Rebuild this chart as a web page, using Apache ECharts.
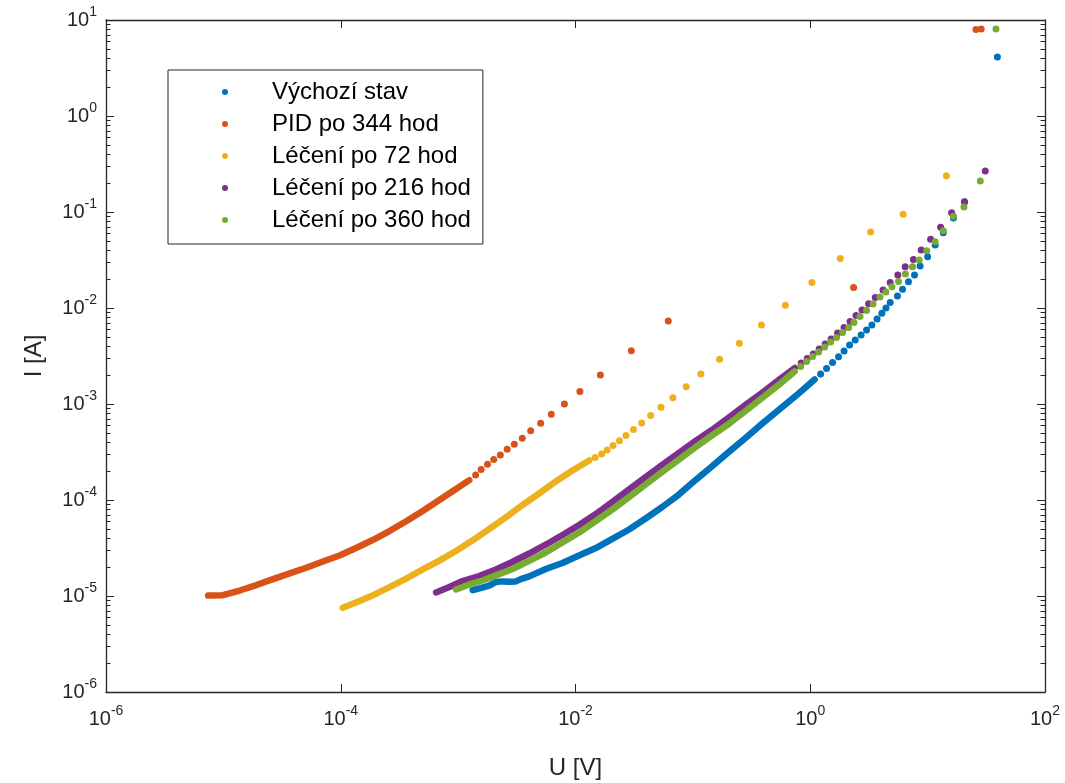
<!DOCTYPE html>
<html>
<head>
<meta charset="utf-8">
<script src="https://cdn.jsdelivr.net/npm/echarts@6/dist/echarts.min.js"></script>
<style>
  html, body { margin: 0; padding: 0; background: #fff; }
  #chart { width: 1065px; height: 783px; }
</style>
</head>
<body>
<div id="chart"></div>
<script>
// [U (V), I (A)]. "Dense" = the part where the dots merge into a stroke.
const vychoziDense = [[1.33e-3,1.15e-5],[1.55e-3,1.21e-5],[1.84e-3,1.28e-5],[2.10e-3,1.40e-5],[2.39e-3,1.42e-5],[2.72e-3,1.41e-5],[3.10e-3,1.42e-5],[3.53e-3,1.52e-5],[4.03e-3,1.60e-5],[5.58e-3,1.91e-5],[7.74e-3,2.21e-5],[1.07e-2,2.64e-5],[1.49e-2,3.16e-5],[2.06e-2,3.93e-5],[2.86e-2,4.93e-5],[3.96e-2,6.41e-5],[5.48e-2,8.45e-5],[7.60e-2,1.14e-4],[0.105,1.61e-4],[0.145,2.23e-4],[0.202,3.16e-4],[0.281,4.43e-4],[0.386,6.19e-4],[0.538,8.66e-4],[0.796,1.29e-3],[1.089,1.80e-3]];
const vychoziDots = [[1.225,2.05e-3],[1.377,2.34e-3],[1.549,2.70e-3],[1.742,3.11e-3],[1.941,3.56e-3],[2.163,4.12e-3],[2.415,4.64e-3],[2.71,5.24e-3],[3.02,5.90e-3],[3.35,6.65e-3],[3.707,7.67e-3],[4.074,8.81e-3],[4.416,1.0e-2],[4.797,1.14e-2],[5.53,1.33e-2],[6.11,1.57e-2],[6.87,1.88e-2],[7.73,2.21e-2],[8.63,2.74e-2],[10.0,3.42e-2],[11.6,4.53e-2],[13.6,6.08e-2],[16.6,8.66e-2],[20.6,0.127],[39.3,4.12]];

const pidDense = [[7.41e-6,1.01e-5],[9.89e-6,1.02e-5],[1.38e-5,1.14e-5],[1.91e-5,1.30e-5],[2.65e-5,1.50e-5],[3.67e-5,1.72e-5],[5.09e-5,1.97e-5],[7.04e-5,2.29e-5],[9.77e-5,2.64e-5],[1.35e-4,3.16e-5],[1.87e-4,3.83e-5],[2.60e-4,4.75e-5],[3.61e-4,6.00e-5],[4.99e-4,7.67e-5],[6.92e-4,1.0e-4],[9.59e-4,1.30e-4],[1.245e-3,1.61e-4]];
const pidDots = [[1.41e-3,1.82e-4],[1.57e-3,2.08e-4],[1.78e-3,2.36e-4],[2.01e-3,2.64e-4],[2.29e-3,2.94e-4],[2.62e-3,3.37e-4],[3.01e-3,3.81e-4],[3.52e-3,4.41e-4],[4.15e-3,5.26e-4],[5.05e-3,6.30e-4],[6.22e-3,7.82e-4],[8.04e-3,1.0e-3],[1.09e-2,1.35e-3],[1.63e-2,2.00e-3],[2.99e-2,3.58e-3],[6.17e-2,7.33e-3],[2.34,1.64e-2],[25.8,7.96],[28.6,8.06]];

const lec72Dense = [[1.04e-4,7.55e-6],[1.35e-4,8.55e-6],[1.86e-4,1.01e-5],[2.60e-4,1.24e-5],[3.61e-4,1.52e-5],[4.99e-4,1.89e-5],[6.92e-4,2.34e-5],[9.59e-4,2.94e-5],[1.32e-3,3.78e-5],[1.84e-3,4.99e-5],[2.55e-3,6.58e-5],[3.53e-3,8.87e-5],[4.90e-3,1.17e-4],[6.79e-3,1.56e-4],[9.42e-3,2.03e-4],[1.31e-2,2.58e-4]];
const lec72Dots = [[1.47e-2,2.77e-4],[1.67e-2,3.01e-4],[1.86e-2,3.32e-4],[2.09e-2,3.70e-4],[2.37e-2,4.14e-4],[2.69e-2,4.70e-4],[3.12e-2,5.42e-4],[3.66e-2,6.34e-4],[4.37e-2,7.59e-4],[5.35e-2,9.27e-4],[6.76e-2,1.16e-3],[8.77e-2,1.51e-3],[0.117,2.05e-3],[0.169,2.92e-3],[0.249,4.29e-3],[0.384,6.65e-3],[0.614,1.07e-2],[1.033,1.84e-2],[1.803,3.27e-2],[3.266,6.19e-2],[6.19,9.46e-2],[14.45,0.239]];

const lec216Dense = [[6.49e-4,1.09e-5],[8.41e-4,1.24e-5],[1.09e-3,1.43e-5],[1.51e-3,1.61e-5],[2.10e-3,1.89e-5],[2.89e-3,2.26e-5],[4.03e-3,2.77e-5],[5.62e-3,3.44e-5],[7.74e-3,4.32e-5],[1.074e-2,5.50e-5],[1.49e-2,7.14e-5],[2.05e-2,9.53e-5],[2.86e-2,1.29e-4],[3.98e-2,1.74e-4],[5.48e-2,2.32e-4],[7.60e-2,3.09e-4],[0.1054,4.12e-4],[0.145,5.36e-4],[0.202,7.23e-4],[0.281,9.77e-4],[0.386,1.30e-3],[0.538,1.78e-3],[0.736,2.37e-3]];
const lec216Dots = [[0.837,2.67e-3],[0.942,2.98e-3],[1.059,3.32e-3],[1.191,3.74e-3],[1.340,4.22e-3],[1.507,4.75e-3],[1.710,5.50e-3],[1.941,6.27e-3],[2.183,7.23e-3],[2.455,8.36e-3],[2.761,9.53e-3],[3.141,1.11e-2],[3.581,1.29e-2],[4.169,1.54e-2],[4.797,1.84e-2],[5.57,2.21e-2],[6.44,2.69e-2],[7.57,3.21e-2],[8.81,4.02e-2],[10.6,5.20e-2],[12.9,6.93e-2],[16.0,9.84e-2],[20.6,0.128],[31.0,0.267]];

const lec360Dense = [[9.59e-4,1.17e-5],[1.245e-3,1.32e-5],[1.61e-3,1.45e-5],[2.10e-3,1.64e-5],[2.90e-3,1.91e-5],[4.03e-3,2.32e-5],[5.58e-3,2.84e-5],[7.74e-3,3.61e-5],[1.074e-2,4.58e-5],[1.49e-2,6.04e-5],[2.06e-2,7.96e-5],[2.86e-2,1.07e-4],[3.96e-2,1.45e-4],[5.48e-2,1.96e-4],[7.60e-2,2.64e-4],[0.1054,3.56e-4],[0.145,4.70e-4],[0.202,6.19e-4],[0.281,8.45e-4],[0.386,1.15e-3],[0.538,1.58e-3],[0.736,2.18e-3]];
const lec360Dots = [[0.828,2.46e-3],[0.931,2.77e-3],[1.047,3.13e-3],[1.178,3.48e-3],[1.324,3.93e-3],[1.489,4.43e-3],[1.675,4.93e-3],[1.888,5.56e-3],[2.123,6.27e-3],[2.36,7.06e-3],[2.655,8.15e-3],[3.02,9.42e-3],[3.428,1.10e-2],[3.926,1.30e-2],[4.416,1.47e-2],[4.966,1.66e-2],[5.65,1.89e-2],[6.47,2.26e-2],[7.43,2.69e-2],[8.47,3.16e-2],[9.82,3.95e-2],[11.6,4.91e-2],[13.6,6.38e-2],[16.6,9.02e-2],[20.4,0.113],[28.1,0.210],[38.2,8.06]];

const names = ['Výchozí stav', 'PID po 344 hod', 'Léčení po 72 hod', 'Léčení po 216 hod', 'Léčení po 360 hod'];
const colors = ['#0072BD', '#D95319', '#EDB120', '#7E2F8E', '#77AC30'];

// log minor ticks of the I axis (2..9 x 10^n)
const minorTicksI = [];
for (let e = -6; e < 1; e++) {
  for (let k = 2; k <= 9; k++) minorTicksI.push(k * Math.pow(10, e));
}

const FONT = '"Liberation Sans", Arial, Helvetica, sans-serif';
const AXIS_COLOR = '#262626';

function powLabel(value) {
  return '{b|10}{s|' + Math.round(Math.log10(value)) + '}';
}
const powRich = {
  b: { fontSize: 20, lineHeight: 30, color: AXIS_COLOR, fontFamily: FONT },
  s: { fontSize: 14, verticalAlign: 'top', color: AXIS_COLOR, fontFamily: FONT }
};

function xAxisCfg(pos, showLabel) {
  return {
    type: 'log', logBase: 100, position: pos, min: 1e-6, max: 100,
    axisLine: { onZero: false, lineStyle: { color: AXIS_COLOR, width: 1.3 } },
    axisTick: { inside: true, length: 8, lineStyle: { color: AXIS_COLOR } },
    axisLabel: { show: showLabel, margin: 12, formatter: powLabel, rich: powRich },
    splitLine: { show: false },
    name: showLabel ? 'U [V]' : '', nameLocation: 'middle', nameGap: 64,
    nameTextStyle: { fontSize: 24, color: AXIS_COLOR, fontFamily: FONT }
  };
}
function yAxisCfg(pos, showLabel) {
  return {
    type: 'log', logBase: 10, position: pos, min: 1e-6, max: 10, splitNumber: 7,
    axisLine: { onZero: false, lineStyle: { color: AXIS_COLOR, width: 1.3 } },
    axisTick: { inside: true, length: 8, lineStyle: { color: AXIS_COLOR } },
    axisLabel: { show: showLabel, margin: 9, formatter: powLabel, rich: powRich },
    splitLine: { show: false },
    name: showLabel ? 'I [A]' : '', nameLocation: 'middle', nameGap: 60,
    nameTextStyle: { fontSize: 24, color: AXIS_COLOR, fontFamily: FONT }
  };
}

const denseSets = [vychoziDense, pidDense, lec72Dense, lec216Dense, lec360Dense];
const dotSets = [vychoziDots, pidDots, lec72Dots, lec216Dots, lec360Dots];

const series = [];
names.forEach(function (name, i) {
  series.push({
    name: name, type: 'line', data: denseSets[i], symbol: 'none', silent: true,
    lineStyle: { color: colors[i], width: 6.5, cap: 'round', join: 'round' },
    itemStyle: { color: colors[i] }
  });
  series.push({
    name: name, type: 'scatter', data: dotSets[i], symbolSize: 7, silent: true,
    itemStyle: { color: colors[i], opacity: 1 }
  });
});
series.push({
  name: 'minor', type: 'custom', silent: true, z: 10,
  data: minorTicksI.map(function (v) { return [1e-6, v]; }),
  renderItem: function (params, api) {
    const v = api.value(1);
    const l = api.coord([1e-6, v]);
    const r = api.coord([100, v]);
    const y = Math.round(l[1]) + 0.5;
    const style = { stroke: AXIS_COLOR, lineWidth: 1 };
    return {
      type: 'group',
      children: [
        { type: 'line', shape: { x1: l[0], y1: y, x2: l[0] + 4.5, y2: y }, style: style },
        { type: 'line', shape: { x1: r[0] - 4.5, y1: y, x2: r[0], y2: y }, style: style }
      ]
    };
  }
});

const chart = echarts.init(document.getElementById('chart'), null, { renderer: 'canvas' });
chart.setOption({
  animation: false,
  backgroundColor: '#ffffff',
  grid: { left: 106, right: 20, top: 20, bottom: 91, containLabel: false, outerBoundsMode: 'none' },
  xAxis: [xAxisCfg('bottom', true), xAxisCfg('top', false)],
  yAxis: [yAxisCfg('left', true), yAxisCfg('right', false)],
  legend: {
    orient: 'vertical', left: 168, top: 70,
    data: names.map(function (n) { return { name: n, icon: 'circle' }; }),
    itemWidth: 6, itemHeight: 6, itemGap: 8,
    padding: [10, 12, 12, 54],
    borderColor: AXIS_COLOR, borderWidth: 1, backgroundColor: '#ffffff',
    selectedMode: false,
    textStyle: { fontSize: 24, lineHeight: 24, color: '#000', fontFamily: FONT, padding: [0, 0, 0, 39] }
  },
  series: series
});
</script>
</body>
</html>
